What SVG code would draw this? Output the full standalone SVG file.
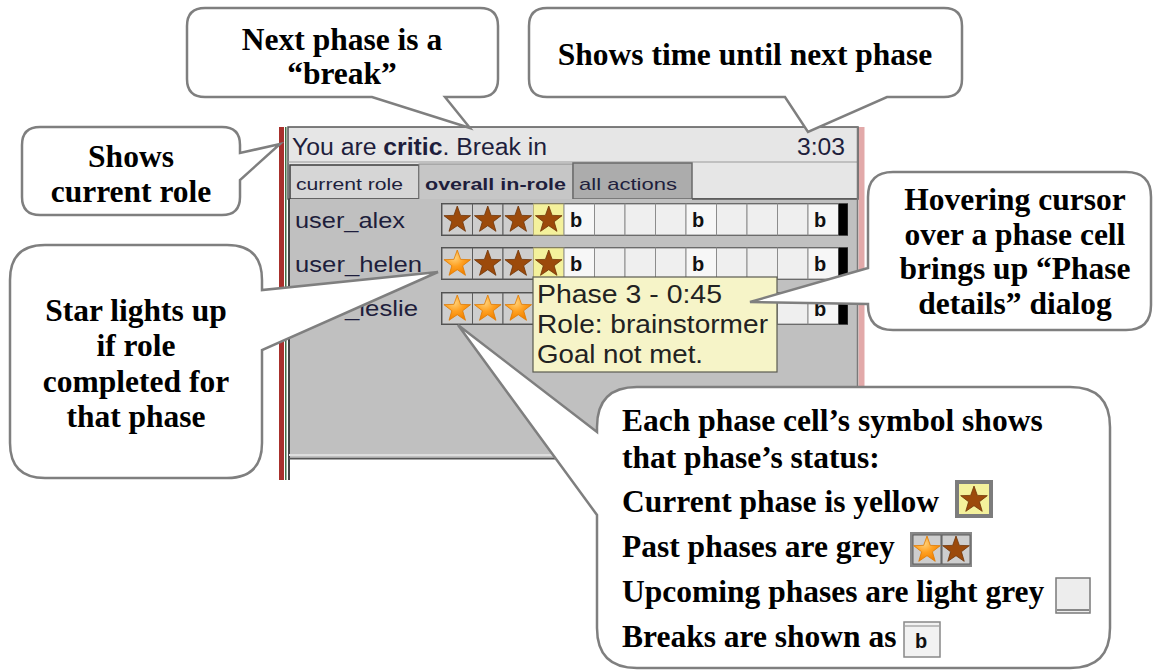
<svg xmlns="http://www.w3.org/2000/svg" width="1154" height="671" viewBox="0 0 1154 671">
  <defs>
    <style>
      .ui { font-family: "Liberation Sans", Arial, sans-serif; fill: #1e1e3c; }
      .tip { font-family: "Liberation Sans", Arial, sans-serif; fill: #222; font-size: 25px; }
      .note { font-family: "Liberation Serif", "Times New Roman", serif; font-weight: bold; font-size: 31.5px; fill: #000; }
      .callout { fill: #fff; stroke: #7f7f7f; stroke-width: 2.5; stroke-linejoin: miter; }
      .past { fill: #cecece; stroke: #5c5c5c; stroke-width: 1; }
      .cur { fill: #f4f19c; stroke: #b9b27a; stroke-width: 1; }
      .up { fill: #efefef; stroke: #8c8c8c; stroke-width: 1; }
      .brk { fill: #f7f7f7; stroke: #8c8c8c; stroke-width: 1; }
      .bl { font-family: "Liberation Sans", Arial, sans-serif; font-weight: bold; font-size: 20px; fill: #111; }
      .sb { fill: #9c4a0b; stroke: #6e3306; stroke-width: 0.8; }
      .so { fill: url(#orangeStar); stroke: #e07a00; stroke-width: 0.8; }
    </style>
    <radialGradient id="orangeStar" cx="0.4" cy="0.3" r="0.7">
      <stop offset="0" stop-color="#ffd27a"/>
      <stop offset="0.5" stop-color="#ffa020"/>
      <stop offset="1" stop-color="#f08000"/>
    </radialGradient>
    <path id="star" d="M0,-14 L3.35,-4.61 L13.31,-4.33 L5.42,1.76 L8.23,11.33 L0,5.7 L-8.23,11.33 L-5.42,1.76 L-13.31,-4.33 L-3.35,-4.61 Z"/>
  </defs>

  <rect width="1154" height="671" fill="#fff"/>

  <!-- application panel -->
  <g id="panel">
    <!-- window frame stripes -->
    <rect x="279" y="127" width="5" height="353" fill="#a8302c"/>
    <rect x="285" y="127" width="1.5" height="353" fill="#3f6e45"/>
    <rect x="858.5" y="127" width="6" height="300" fill="#e2a9a9"/>
    <!-- header -->
    <rect x="288" y="127" width="570" height="72" fill="#e6e6e6" stroke="#555" stroke-width="1.5"/>
    <text class="ui" x="292" y="155" font-size="23" textLength="255" lengthAdjust="spacingAndGlyphs">You are <tspan font-weight="bold">critic</tspan>. Break in</text>
    <text class="ui" x="845" y="155" font-size="23" text-anchor="end" textLength="48" lengthAdjust="spacingAndGlyphs">3:03</text>
    <line x1="288" y1="162" x2="858" y2="162" stroke="#9a9a9a" stroke-width="1"/>
    <!-- tabs -->
    <rect x="290" y="165" width="129" height="34" fill="#d6d6d6" stroke="#3c3c3c" stroke-width="1.5"/>
    <text class="ui" x="296" y="190" font-size="17" textLength="107" lengthAdjust="spacingAndGlyphs">current role</text>
    <rect x="419" y="164" width="154" height="36" fill="#c6c6c6" stroke="#8a8a8a" stroke-width="1"/>
    <text class="ui" x="425" y="190" font-size="17" font-weight="bold" textLength="141" lengthAdjust="spacingAndGlyphs">overall in-role</text>
    <rect x="573" y="163" width="119" height="36" fill="#acacac" stroke="#6a6a6a" stroke-width="1.5"/>
    <text class="ui" x="579" y="190" font-size="17" textLength="98" lengthAdjust="spacingAndGlyphs">all actions</text>
    <!-- content area -->
    <rect x="289" y="199" width="569" height="258" fill="#c0c0c0"/>
    <line x1="692" y1="199" x2="858" y2="199" stroke="#555" stroke-width="1.5"/>
    <line x1="289" y1="199" x2="289" y2="480" stroke="#444" stroke-width="2"/>
    <line x1="857.5" y1="127" x2="857.5" y2="459" stroke="#7a7a7a" stroke-width="1.5"/>
    <line x1="289" y1="455" x2="858" y2="455" stroke="#dedede" stroke-width="2"/>
    <line x1="289" y1="458.5" x2="858" y2="458.5" stroke="#555" stroke-width="2"/>

    <!-- row: user_alex -->
    <g id="row-alex">
      <text class="ui" x="295" y="228" font-size="22" textLength="110" lengthAdjust="spacingAndGlyphs">user_alex</text>
      <rect x="441" y="203" width="407" height="33" fill="#4a4a4a"/>
      <rect class="past" x="442" y="204" width="30.5" height="31"/>
      <rect class="past" x="472.5" y="204" width="30.5" height="31"/>
      <rect class="past" x="503" y="204" width="30.5" height="31"/>
      <rect class="cur" x="533.5" y="204" width="30.5" height="31"/>
      <rect class="brk" x="564" y="204" width="30.5" height="31"/>
      <rect class="up" x="594.5" y="204" width="30.5" height="31"/>
      <rect class="up" x="625" y="204" width="30.5" height="31"/>
      <rect class="up" x="655.5" y="204" width="30.5" height="31"/>
      <rect class="brk" x="686" y="204" width="30.5" height="31"/>
      <rect class="up" x="716.5" y="204" width="30.5" height="31"/>
      <rect class="up" x="747" y="204" width="30.5" height="31"/>
      <rect class="up" x="777.5" y="204" width="30.5" height="31"/>
      <rect class="brk" x="808" y="204" width="30.5" height="31"/>
      <rect x="838.5" y="204" width="9" height="31" fill="#000"/>
      <use href="#star" class="sb" x="457.25" y="220"/>
      <use href="#star" class="sb" x="487.75" y="220"/>
      <use href="#star" class="sb" x="518.25" y="220"/>
      <use href="#star" class="sb" x="548.75" y="220"/>
      <text class="bl" x="570" y="227">b</text>
      <text class="bl" x="692" y="227">b</text>
      <text class="bl" x="814" y="227">b</text>
    </g>

    <!-- row: user_helen -->
    <g id="row-helen">
      <text class="ui" x="295" y="272" font-size="22" textLength="127" lengthAdjust="spacingAndGlyphs">user_helen</text>
      <rect x="441" y="247" width="407" height="33" fill="#4a4a4a"/>
      <rect class="past" x="442" y="248" width="30.5" height="31"/>
      <rect class="past" x="472.5" y="248" width="30.5" height="31"/>
      <rect class="past" x="503" y="248" width="30.5" height="31"/>
      <rect class="cur" x="533.5" y="248" width="30.5" height="31"/>
      <rect class="brk" x="564" y="248" width="30.5" height="31"/>
      <rect class="up" x="594.5" y="248" width="30.5" height="31"/>
      <rect class="up" x="625" y="248" width="30.5" height="31"/>
      <rect class="up" x="655.5" y="248" width="30.5" height="31"/>
      <rect class="brk" x="686" y="248" width="30.5" height="31"/>
      <rect class="up" x="716.5" y="248" width="30.5" height="31"/>
      <rect class="up" x="747" y="248" width="30.5" height="31"/>
      <rect class="up" x="777.5" y="248" width="30.5" height="31"/>
      <rect class="brk" x="808" y="248" width="30.5" height="31"/>
      <rect x="838.5" y="248" width="9" height="31" fill="#000"/>
      <use href="#star" class="so" x="457.25" y="264"/>
      <use href="#star" class="sb" x="487.75" y="264"/>
      <use href="#star" class="sb" x="518.25" y="264"/>
      <use href="#star" class="sb" x="548.75" y="264"/>
      <text class="bl" x="570" y="271">b</text>
      <text class="bl" x="692" y="271">b</text>
      <text class="bl" x="814" y="271">b</text>
    </g>

    <!-- row: user_leslie -->
    <g id="row-leslie">
      <text class="ui" x="295" y="316" font-size="22" textLength="123" lengthAdjust="spacingAndGlyphs">user_leslie</text>
      <rect x="441" y="292" width="407" height="33" fill="#4a4a4a"/>
      <rect class="past" x="442" y="293" width="30.5" height="31"/>
      <rect class="past" x="472.5" y="293" width="30.5" height="31"/>
      <rect class="past" x="503" y="293" width="30.5" height="31"/>
      <rect class="cur" x="533.5" y="293" width="30.5" height="31"/>
      <rect class="brk" x="564" y="293" width="30.5" height="31"/>
      <rect class="up" x="594.5" y="293" width="30.5" height="31"/>
      <rect class="up" x="625" y="293" width="30.5" height="31"/>
      <rect class="up" x="655.5" y="293" width="30.5" height="31"/>
      <rect class="brk" x="686" y="293" width="30.5" height="31"/>
      <rect class="up" x="716.5" y="293" width="30.5" height="31"/>
      <rect class="up" x="747" y="293" width="30.5" height="31"/>
      <rect class="up" x="777.5" y="293" width="30.5" height="31"/>
      <rect class="brk" x="808" y="293" width="30.5" height="31"/>
      <rect x="838.5" y="293" width="9" height="31" fill="#000"/>
      <use href="#star" class="so" x="457.25" y="309"/>
      <use href="#star" class="so" x="487.75" y="309"/>
      <use href="#star" class="so" x="518.25" y="309"/>
      <text class="bl" x="814" y="316">b</text>
    </g>

    <!-- phase details tooltip -->
    <g id="tooltip">
      <rect x="533" y="277" width="244" height="95" fill="#f6f4c8" stroke="#5a5a50" stroke-width="1.2"/>
      <text class="tip" x="537" y="303" textLength="185" lengthAdjust="spacingAndGlyphs">Phase 3 - 0:45</text>
      <text class="tip" x="537" y="333" textLength="231" lengthAdjust="spacingAndGlyphs">Role: brainstormer</text>
      <text class="tip" x="537" y="363" textLength="166" lengthAdjust="spacingAndGlyphs">Goal not met.</text>
    </g>
  </g>

  <!-- callouts, each a rounded box with a pointer -->
  <g id="callout-role">
    <path class="callout" d="M40,127 H222 Q240,127 240,145 V153 L280,144 L240,180 V197 Q240,215 222,215 H40 Q22,215 22,197 V145 Q22,127 40,127 Z"/>
    <text class="note" x="131" y="167" text-anchor="middle">Shows</text>
    <text class="note" x="131" y="202" text-anchor="middle">current role</text>
  </g>

  <g id="callout-break">
    <path class="callout" d="M205,8 H480 Q498,8 498,26 V79 Q498,97 480,97 H445 L470,128 L372,97 H205 Q187,97 187,79 V26 Q187,8 205,8 Z"/>
    <text class="note" x="342" y="50" text-anchor="middle">Next phase is a</text>
    <text class="note" x="342" y="84" text-anchor="middle">“break”</text>
  </g>

  <g id="callout-time">
    <path class="callout" d="M547,8 H944 Q962,8 962,26 V79 Q962,97 944,97 H887 L808,132 L785,97 H547 Q529,97 529,79 V26 Q529,8 547,8 Z"/>
    <text class="note" x="745" y="65" text-anchor="middle">Shows time until next phase</text>
  </g>

  <g id="callout-hover">
    <path class="callout" d="M893,172 H1126 Q1151,172 1151,197 V305 Q1151,330 1126,330 H893 Q868,330 868,305 V304 L750,302 L868,268 V197 Q868,172 893,172 Z"/>
    <text class="note" x="1015" y="210" text-anchor="middle">Hovering cursor</text>
    <text class="note" x="1015" y="245" text-anchor="middle">over a phase cell</text>
    <text class="note" x="1015" y="279" text-anchor="middle">brings up “Phase</text>
    <text class="note" x="1015" y="314" text-anchor="middle">details” dialog</text>
  </g>

  <g id="callout-star">
    <path class="callout" d="M45,245 H227 Q262,245 262,280 V290 L438,272 L262,350 V443 Q262,478 227,478 H45 Q10,478 10,443 V280 Q10,245 45,245 Z"/>
    <text class="note" x="136" y="321" text-anchor="middle">Star lights up</text>
    <text class="note" x="136" y="356" text-anchor="middle">if role</text>
    <text class="note" x="136" y="392" text-anchor="middle">completed for</text>
    <text class="note" x="136" y="427" text-anchor="middle">that phase</text>
  </g>

  <g id="callout-legend">
    <path class="callout" d="M637,387 H1070 Q1110,387 1110,427 V628 Q1110,668 1070,668 H637 Q597,668 597,628 V515 L458,325 L597,432 V427 Q597,387 637,387 Z"/>
    <text class="note" x="622" y="431">Each phase cell’s symbol shows</text>
    <text class="note" x="622" y="468">that phase’s status:</text>
    <text class="note" x="622" y="512">Current phase is yellow</text>
    <text class="note" x="622" y="557">Past phases are grey</text>
    <text class="note" x="622" y="602">Upcoming phases are light grey</text>
    <text class="note" x="622" y="647">Breaks are shown as</text>
    <!-- legend swatches -->
    <rect x="955" y="480" width="38" height="38" fill="#7c7c7c"/>
    <rect x="959" y="484" width="30" height="30" fill="#f4f19c"/>
    <use href="#star" class="sb" x="974" y="500"/>
    <rect x="910" y="532" width="62" height="35" fill="#888"/>
    <rect class="past" x="913" y="535" width="28" height="29"/>
    <rect class="past" x="942" y="535" width="28" height="29"/>
    <use href="#star" class="so" x="927" y="550"/>
    <use href="#star" class="sb" x="956" y="550"/>
    <rect x="1056" y="578" width="34" height="35" fill="#ededed" stroke="#7a7a7a" stroke-width="1.5"/>
    <line x1="1057" y1="610" x2="1089" y2="610" stroke="#666" stroke-width="1.5"/>
    <rect x="904" y="622" width="36" height="35" fill="#f2f2f2" stroke="#888" stroke-width="1.5"/>
    <line x1="905" y1="626" x2="939" y2="626" stroke="#888" stroke-width="1"/>
    <text class="bl" x="915" y="648" font-size="18">b</text>
  </g>
</svg>
